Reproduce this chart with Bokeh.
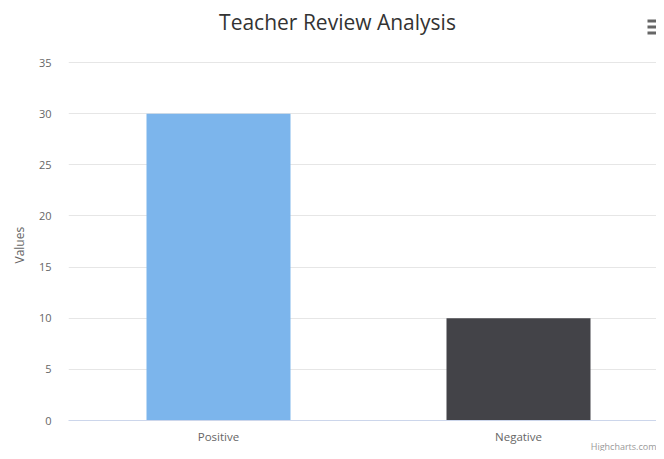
from bokeh.plotting import figure
from bokeh.models import Range1d, FixedTicker, Label, ColumnDataSource, Title, BoxAnnotation
from bokeh.embed import file_html
from bokeh.resources import INLINE

categories = ["Positive", "Negative"]
values = [30, 10]
colors = ["#7cb5ec", "#434348"]
y_ticks = [0, 5, 10, 15, 20, 25, 30, 35]
y_max = 35

W, H = 656, 451
FL, PT, FB = 68, 62, 420          # frame left, plot-area top, frame bottom (canvas px)
CAT_PX = 300                      # pixel width of one category slot
xs = list(range(len(categories)))
src = ColumnDataSource(dict(x=xs, top=values, color=colors))

# the frame runs up to the canvas top so the title and menu icon can live inside it
y_end = y_max * FB / (FB - PT)

p = figure(width=W, height=H, output_backend="svg", toolbar_location=None,
           x_range=Range1d(-0.5, -0.5 + (W - FL) / CAT_PX), y_range=Range1d(0, y_end),
           min_border_left=FL, min_border_right=0, min_border_top=0, min_border_bottom=H - FB)
p.outline_line_color = None
p.background_fill_color = "white"
p.border_fill_color = "white"

p.vbar(x="x", top="top", bottom=0, width=0.48, color="color", source=src, line_color=None)

p.xgrid.grid_line_color = None
p.ygrid.grid_line_color = "#e6e6e6"
p.ygrid.ticker = FixedTicker(ticks=y_ticks)

p.yaxis.ticker = FixedTicker(ticks=y_ticks)
p.yaxis.axis_line_color = None
p.yaxis.major_tick_line_color = None
p.yaxis.major_tick_out = 0
p.yaxis.major_tick_in = 0
p.yaxis.minor_tick_line_color = None
p.yaxis.major_label_text_color = "#666666"
p.yaxis.major_label_text_font = "Open Sans"
p.yaxis.major_label_text_font_size = "11px"
p.yaxis.major_label_standoff = 17

ylab = Title(text="Values", align="left", offset=(FB - 241) - 22, standoff=15,
             text_color="#666666", text_font="Open Sans", text_font_size="12px",
             text_font_style="normal")
p.add_layout(ylab, "left")

p.xaxis.ticker = FixedTicker(ticks=xs)
p.xaxis.major_label_overrides = {i: c for i, c in zip(xs, categories)}
p.xaxis.axis_line_color = "#ccd6eb"
p.xaxis.major_tick_line_color = None
p.xaxis.major_tick_out = 0
p.xaxis.major_tick_in = 0
p.xaxis.minor_tick_line_color = None
p.xaxis.major_label_text_color = "#666666"
p.xaxis.major_label_text_font = "Open Sans"
p.xaxis.major_label_text_font_size = "11.5px"
p.xaxis.major_label_standoff = 8

credit = Title(text="Highcharts.com", align="right", vertical_align="top", standoff=-14, offset=0,
               text_color="#999999", text_font="Open Sans", text_font_size="9px",
               text_font_style="normal")
p.add_layout(credit, "below")

# annotations: screen units are relative to the frame (x from left, y up from bottom)
p.add_layout(Label(x=337 - FL, y=FB - 21, x_units="screen", y_units="screen",
                   text="Teacher Review Analysis", text_align="center", text_baseline="middle",
                   text_font="Open Sans", text_font_size="21px", text_color="#333333"))

# hamburger menu icon (three bars), partly cut at the right edge like the reference
for top_px in (19, 25, 31):
    p.add_layout(BoxAnnotation(left=647 - FL, right=W - FL, top=FB - top_px, bottom=FB - top_px - 3,
                               left_units="screen", right_units="screen",
                               top_units="screen", bottom_units="screen",
                               fill_color="#666666", fill_alpha=1.0, line_color=None))

open("out.html", "w").write(file_html(p, INLINE))
